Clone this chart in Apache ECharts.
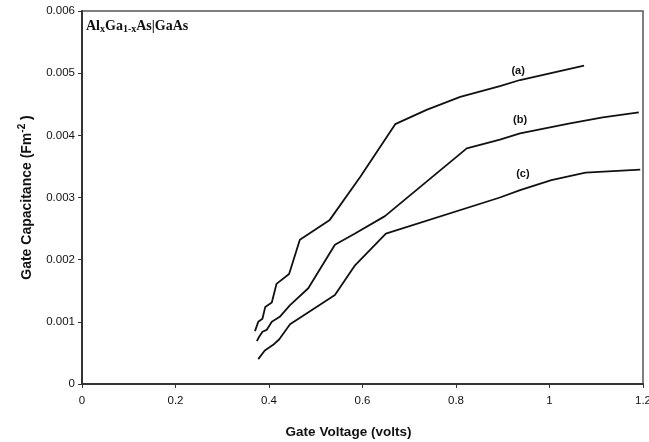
<!DOCTYPE html>
<html>
<head>
<meta charset="utf-8">
<script src="https://cdn.jsdelivr.net/npm/echarts@6/dist/echarts.min.js"></script>
<style>
  html, body { margin: 0; padding: 0; background: #fff; }
  #chart { width: 649px; height: 442px; }
</style>
</head>
<body>
<div id="chart"></div>
<script>
// gate voltage (V) / gate capacitance (F m^-2)
const curveA = [
  [0.370, 0.00085], [0.377, 0.00100], [0.386, 0.00105], [0.392, 0.00124],
  [0.406, 0.00131], [0.416, 0.00161], [0.443, 0.00177], [0.466, 0.00232],
  [0.530, 0.00264], [0.595, 0.00333], [0.670, 0.00418], [0.737, 0.00441],
  [0.809, 0.00462], [0.894, 0.00479], [0.937, 0.00489], [1.074, 0.00512]
];
const curveB = [
  [0.374, 0.00069], [0.379, 0.00076], [0.386, 0.00084], [0.395, 0.00087],
  [0.406, 0.00100], [0.423, 0.00108], [0.445, 0.00127], [0.484, 0.00154],
  [0.541, 0.00224], [0.584, 0.00242], [0.648, 0.00270], [0.823, 0.00379],
  [0.894, 0.00393], [0.937, 0.00403], [1.041, 0.00419], [1.114, 0.00429],
  [1.191, 0.00437]
];
const curveC = [
  [0.377, 0.00040], [0.391, 0.00054], [0.409, 0.00063], [0.422, 0.00072],
  [0.445, 0.00096], [0.541, 0.00143], [0.584, 0.00191], [0.650, 0.00242],
  [0.894, 0.00300], [0.937, 0.00312], [1.004, 0.00328], [1.077, 0.00340],
  [1.194, 0.00345]
];
const curveNames = ["(a)", "(b)", "(c)"];
// where each curve tag sits (data coords)
const tagPos = [[0.933, 0.00503], [0.937, 0.00425], [0.943, 0.00338]];
const xTicks = [0, 0.2, 0.4, 0.6, 0.8, 1, 1.2];
const yTicks = [0, 0.001, 0.002, 0.003, 0.004, 0.005, 0.006];

const myChart = echarts.init(document.getElementById("chart"));

const mkSeries = (name, data, pos) => ({
  name: name,
  type: "line",
  data: data,
  showSymbol: false,
  symbol: "none",
  lineStyle: { color: "#111", width: 1.8 },
  markPoint: {
    symbol: "circle",
    symbolSize: 2,
    itemStyle: { color: "rgba(0,0,0,0)" },
    label: {
      show: true,
      position: "inside",
      formatter: name,
      color: "#111",
      fontFamily: "Liberation Sans, Arial",
      fontWeight: "bold",
      fontSize: 11,
    },
    data: [{ coord: pos }],
  },
  z: 3,
});

const option = {
  animation: false,
  backgroundColor: "#fff",
  grid: {
    left: 82,
    right: 6,
    top: 11,
    bottom: 58,
    outerBoundsMode: "none",
    show: true,
    borderColor: "#555",
    borderWidth: 1.5,
  },
  xAxis: {
    type: "value",
    min: 0,
    max: 1.2,
    interval: 0.2,
    name: "Gate Voltage (volts)",
    nameLocation: "middle",
    nameGap: 41,
    nameTextStyle: {
      color: "#111",
      fontFamily: "Liberation Sans, Arial",
      fontWeight: "bold",
      fontSize: 13.5,
      padding: [0, 28, 0, 0],
    },
    axisLine: { show: true, lineStyle: { color: "#333", width: 2 } },
    axisTick: { show: true, inside: false, length: 4, lineStyle: { color: "#333" } },
    splitLine: { show: false },
    axisLabel: {
      color: "#111",
      fontFamily: "Liberation Sans, Arial",
      fontSize: 11.5,
      margin: 11,
      formatter: (v) => {
        const t = xTicks.find((k) => Math.abs(k - v) < 1e-9);
        return t === undefined ? "" : String(t);
      },
    },
  },
  yAxis: {
    type: "value",
    min: 0,
    max: 0.006,
    interval: 0.001,
    name: "{n|Gate Capacitance (Fm}{s|-2}{n| )}",
    nameLocation: "middle",
    nameGap: 45,
    nameRotate: 90,
    nameTextStyle: {
      rich: {
        n: {
          color: "#111",
          fontFamily: "Liberation Sans, Arial",
          fontWeight: "bold",
          fontSize: 14,
        },
        s: {
          color: "#111",
          fontFamily: "Liberation Sans, Arial",
          fontWeight: "bold",
          fontSize: 10,
          padding: [0, 0, 10, 0],
        },
      },
    },
    axisLine: { show: true, lineStyle: { color: "#333", width: 2 } },
    axisTick: { show: true, inside: false, length: 4, lineStyle: { color: "#333" } },
    splitLine: { show: false },
    axisLabel: {
      color: "#111",
      fontFamily: "Liberation Sans, Arial",
      fontSize: 11.5,
      margin: 7,
      formatter: (v) => {
        const t = yTicks.find((k) => Math.abs(k - v) < 1e-12);
        return t === undefined ? "" : t === 0 ? "0" : t.toFixed(3);
      },
    },
  },
  graphic: [
    {
      type: "text",
      left: 86,
      top: 19,
      style: {
        text: "{b|Al}{u|x}{b|Ga}{u|1-x}{b|As|GaAs}",
        rich: {
          b: {
            fontFamily: "Liberation Serif, Times New Roman",
            fontWeight: "bold",
            fontSize: 14,
            fill: "#111",
          },
          u: {
            fontFamily: "Liberation Serif, Times New Roman",
            fontWeight: "bold",
            fontSize: 10,
            fill: "#111",
            padding: [6, 0, 0, 0],
          },
        },
      },
    },
  ],
  series: [
    mkSeries(curveNames[0], curveA, tagPos[0]),
    mkSeries(curveNames[1], curveB, tagPos[1]),
    mkSeries(curveNames[2], curveC, tagPos[2]),
  ],
};

myChart.setOption(option);
</script>
</body>
</html>
